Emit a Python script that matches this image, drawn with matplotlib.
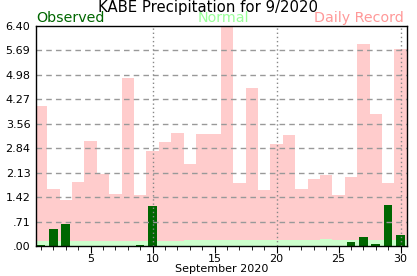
import matplotlib
matplotlib.use("Agg")
import matplotlib.pyplot as plt
from matplotlib.ticker import FixedLocator

days = list(range(1, 31))
record = [4.07, 1.66, 1.34, 1.86, 3.06, 2.10, 1.51, 4.89, 1.48, 2.76,
          3.03, 3.29, 2.39, 3.26, 3.26, 6.40, 1.83, 4.60, 1.63, 2.97,
          3.23, 1.66, 1.95, 2.07, 1.48, 2.01, 5.88, 3.84, 1.83, 5.73]
normal = [0.14] * 12 + [0.17] * 11 + [0.20] + [0.17] * 6
observed = [0.03, 0.49, 0.64, 0, 0, 0, 0, 0, 0.02, 1.16,
            0, 0, 0, 0, 0, 0, 0, 0, 0, 0,
            0, 0, 0, 0, 0, 0.12, 0.26, 0.06, 1.19, 0.32]
yticks = [0.0, 0.71, 1.42, 2.13, 2.84, 3.56, 4.27, 4.98, 5.69, 6.40]
ytick_labels = [".00", ".71", "1.42", "2.13", "2.84", "3.56", "4.27", "4.98", "5.69", "6.40"]
xticks = [5, 10, 15, 20, 25, 30]

fig = plt.figure(figsize=(4.17, 2.76), dpi=100)
ax = fig.add_axes([0.0863, 0.1087, 0.9753 - 0.0863, 0.9058 - 0.1087])

ax.bar(days, record, width=1.0, color="#ffcccc", linewidth=0, zorder=1)
ax.bar(days, normal, width=1.0, color="#ccffcc", linewidth=0, zorder=2)
ax.bar(days, observed, width=0.7, color="#006600", linewidth=0, zorder=3)

ax.set_xlim(0.6, 30.5)
ax.set_ylim(0, 6.40)

ax.set_yticks(yticks)
ax.set_yticklabels(ytick_labels)
ax.tick_params(axis="y", length=0, labelsize=8, pad=4)
ax.set_xticks(xticks)
ax.xaxis.set_minor_locator(FixedLocator(days))
ax.tick_params(axis="x", which="major", length=5, labelsize=8, pad=1, direction="out")
ax.tick_params(axis="x", which="minor", length=3, direction="out")

for y in yticks[1:-1]:
    ax.axhline(y, color="#999999", linestyle=(0, (4, 3)), linewidth=1, zorder=4)
for x in [10, 20, 30]:
    ax.axvline(x, color="#888888", linestyle=(0, (1, 2)), linewidth=1, zorder=4)

for s in ax.spines.values():
    s.set_linewidth(1)
    s.set_zorder(5)

ax.set_xlabel("September 2020", fontsize=8, labelpad=0)

fig.text(0.5, 1.0, "KABE Precipitation for 9/2020", ha="center", va="top", fontsize=10.7)
fig.text(0.0863, 0.908, "Observed", ha="left", va="bottom", fontsize=10.3, color="#006600")
fig.text(0.535, 0.908, "Normal", ha="center", va="bottom", fontsize=10.3, color="#99ff99")
fig.text(0.968, 0.908, "Daily Record", ha="right", va="bottom", fontsize=10.3, color="#ff9999")

fig.savefig("out.png", dpi=100)
